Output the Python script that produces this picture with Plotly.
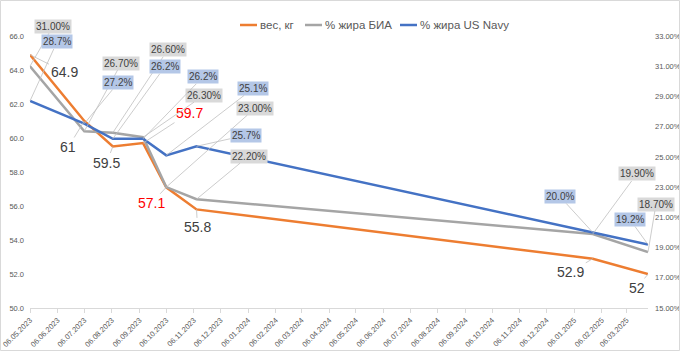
import plotly.graph_objects as go

dates = ["2023-05-06", "2023-07-06", "2023-08-07", "2023-09-10", "2023-10-06",
         "2023-11-09", "2025-01-27", "2025-03-30"]
weight = [64.9, 61, 59.5, 59.7, 57.1, 55.8, 52.9, 52]
fat_bia = [0.31, 0.267, 0.266, 0.263, 0.23, 0.222, 0.199, 0.187]
fat_navy = [0.287, 0.272, 0.262, 0.262, 0.251, 0.257, 0.200, 0.192]
series_names = ["вес, кг", "% жира БИА", "% жира US Navy"]

# label offsets in pixels (layout only)
w_off = [(34, 17), (-16, 26), (-6, 16), (46, -30), (-15, 16), (1, 18), (-22, 13), (-11, 14)]
w_col = ["#404040", "#404040", "#404040", "red", "red", "#404040", "#404040", "#404040"]
b_off = [(23, -40), (37, -68), (55, -83), (61, -42), (89, -79), (52, -43), (44, -60), (8, -48)]
n_off = [(27, -59), (34, -41), (52, -72), (60, -62), (87, -67), (49, -11), (-33, -36), (-18, -25)]

C_W, C_B, C_N = "#ED7D31", "#A5A5A5", "#4472C4"
colors = [C_W, C_B, C_N]
FONT = "Liberation Sans, Arial, sans-serif"

fig = go.Figure()
fig.add_trace(go.Scatter(x=dates, y=weight, name=series_names[0], mode="lines",
                         line=dict(color=C_W, width=2.5)))
fig.add_trace(go.Scatter(x=dates, y=fat_bia, name=series_names[1], mode="lines",
                         line=dict(color=C_B, width=2.5), yaxis="y2"))
fig.add_trace(go.Scatter(x=dates, y=fat_navy, name=series_names[2], mode="lines",
                         line=dict(color=C_N, width=2.5), yaxis="y2"))

W, H = 680, 351
L, R, T, B = 30, 32, 36, 43
pw, ph = W - L - R, H - T - B

def px_x(p):
    return (p - L) / pw

def px_y(p):
    return 1 - (p - T) / ph

ann = []
for d, v, (ax, ay), c in zip(dates, weight, w_off, w_col):
    ann.append(dict(x=d, y=v, xref="x", yref="y", text=f"{v:g}", ax=ax, ay=ay,
                    showarrow=True, arrowhead=0, arrowwidth=0.8, arrowcolor="#bfbfbf",
                    font=dict(size=14, color=c, family=FONT)))
for d, v, (ax, ay) in zip(dates, fat_bia, b_off):
    ann.append(dict(x=d, y=v, xref="x", yref="y2", text=f"{v*100:.2f}%", ax=ax, ay=ay,
                    showarrow=True, arrowhead=0, arrowwidth=0.8, arrowcolor="#bfbfbf",
                    bgcolor="#D9D9D9", borderpad=1,
                    font=dict(size=10, color="#404040", family=FONT)))
for d, v, (ax, ay) in zip(dates, fat_navy, n_off):
    ann.append(dict(x=d, y=v, xref="x", yref="y2", text=f"{v*100:.1f}%", ax=ax, ay=ay,
                    showarrow=True, arrowhead=0, arrowwidth=0.8, arrowcolor="#bfbfbf",
                    bgcolor="#B4C7E7", borderpad=1,
                    font=dict(size=10, color="#404040", family=FONT)))

# custom legend (pixel positions)
leg_x = [240, 305, 400]
leg_y = 25
shapes = []
for name, col, lx in zip(series_names, colors, leg_x):
    shapes.append(dict(type="line", xref="paper", yref="paper",
                       x0=px_x(lx), x1=px_x(lx + 17), y0=px_y(leg_y), y1=px_y(leg_y),
                       line=dict(color=col, width=2.5)))
    ann.append(dict(xref="paper", yref="paper", x=px_x(lx + 18), y=px_y(leg_y),
                    xanchor="left", yanchor="middle", text=name, showarrow=False,
                    font=dict(size=11.5, color="#595959", family=FONT)))

shapes.append(dict(type="rect", xref="paper", yref="paper",
                   x0=-(L - 0.5) / pw, x1=1 + (R - 0.5) / pw,
                   y0=-(B - 0.5) / ph, y1=1 + (T - 0.5) / ph,
                   line=dict(color="#D9D9D9", width=1)))

fig.update_layout(
    width=W, height=H,
    margin=dict(l=L, r=R, t=T, b=B, autoexpand=False),
    paper_bgcolor="white", plot_bgcolor="white",
    font=dict(family=FONT, color="#595959"),
    showlegend=False,
    xaxis=dict(type="date", range=[dates[0], dates[-1]], tick0="2023-05-06", dtick="M1",
               tickformat="%d.%m.%Y", tickangle=-45, tickfont=dict(size=7.5, color="#595959"),
               showgrid=False, showline=True, linecolor="#D9D9D9", ticks="outside",
               ticklen=4, tickcolor="#D9D9D9", zeroline=False, automargin=False),
    yaxis=dict(range=[50, 66], tick0=50, dtick=2, tickformat=".1f", showgrid=False,
               zeroline=False, automargin=False, ticklabelstandoff=5,
               tickfont=dict(size=7.5, color="#595959")),
    yaxis2=dict(range=[0.15, 0.33], tick0=0.15, dtick=0.02, tickformat=".2%", overlaying="y",
                side="right", showgrid=False, zeroline=False, automargin=False,
                ticklabelstandoff=6, tickfont=dict(size=7.5, color="#595959")),
    annotations=ann,
    shapes=shapes,
)

fig.write_html("out.html")
